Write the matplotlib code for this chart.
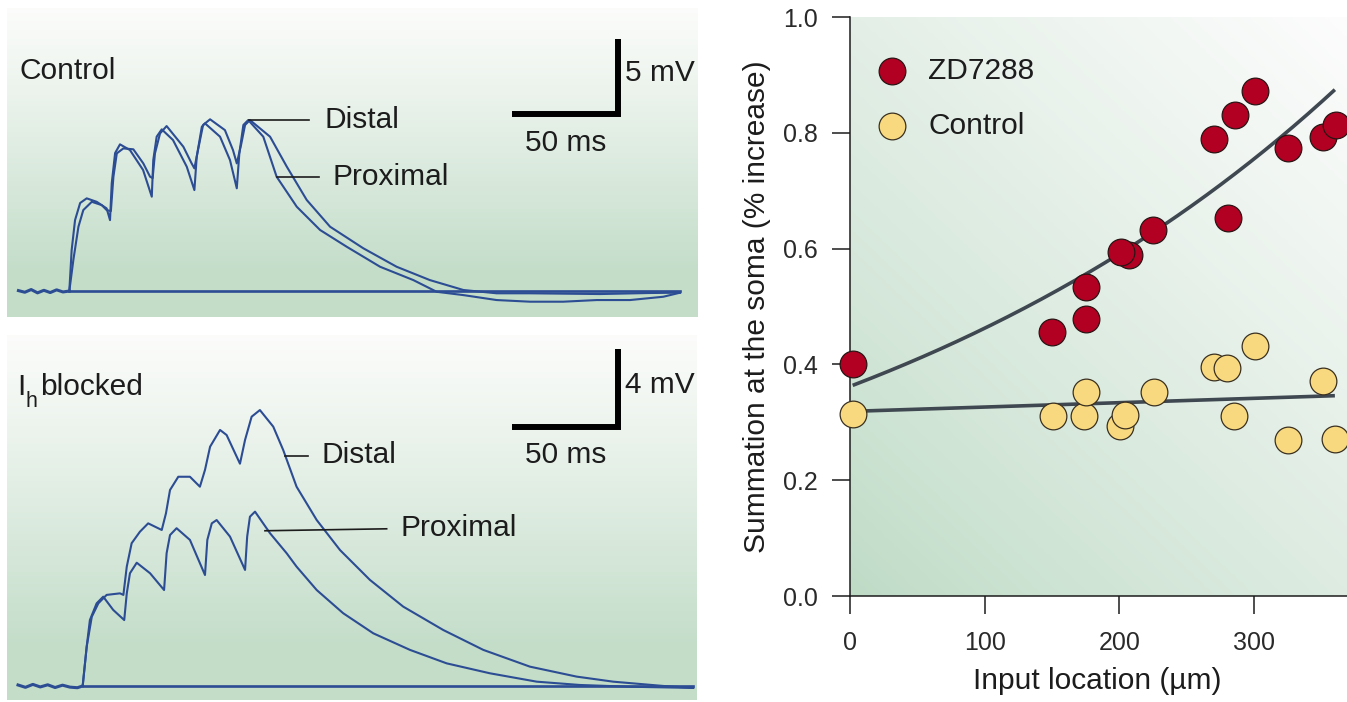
import numpy as np
import matplotlib
matplotlib.use("Agg")
import matplotlib.pyplot as plt
from matplotlib.colors import LinearSegmentedColormap

plt.rcParams["font.family"] = ["Liberation Sans", "DejaVu Sans"]

# ---------------- data: somatic recordings (time in ms, voltage in mV) ----------------
# Control: five EPSPs at ~50 Hz, proximal vs distal input
ctrl_prox_t = [0, 1.1, 2.7, 5.1, 8.2, 12.9, 17.6, 19.2, 20.0, 21.6, 23.9, 28.6, 34.8, 38.9,
               39.6, 41.2, 43.6, 48.9, 55.4, 59.0, 60.1, 62.5, 64.0, 71.1, 75.8, 79.0,
               80.2, 82.1, 84.4, 91.5, 97.8, 107.3, 118.3, 130.9, 146.6, 162.3, 173.3,
               185.9, 201.6, 217.3, 233.0, 248.8, 264.5, 280.2, 288.1]
ctrl_prox_v = [0, 2.73, 4.73, 5.87, 6.18, 5.95, 5.51, 4.73, 7.18, 9.20, 9.78, 9.40, 8.07, 6.29,
               8.73, 10.29, 10.78, 10.07, 8.29, 6.73, 8.95, 10.95, 11.18, 10.29, 8.73, 6.85,
               9.18, 11.07, 11.40, 10.29, 7.62, 5.62, 4.07, 2.95, 1.62, 0.73, -0.05,
               -0.27, -0.60, -0.71, -0.71, -0.60, -0.60, -0.38, -0.11]
ctrl_dist_t = [0, 1.9, 4.3, 6.6, 10.6, 15.3, 17.6, 19.6, 20.8, 22.4, 25.5, 30.2, 34.9, 38.1,
               39.3, 40.4, 42.8, 45.9, 53.8, 57.7, 59.0, 60.7, 63.1, 66.4, 73.4, 77.2, 79.0,
               81.0, 82.9, 85.2, 94.7, 102.6, 112.0, 123.0, 138.7, 154.4, 170.1, 185.9,
               201.6, 217.3, 250.3, 273.9, 288.1]
ctrl_dist_v = [0, 2.07, 4.29, 5.40, 5.95, 5.73, 5.40, 5.33, 7.62, 9.18, 9.51, 9.45, 8.51, 7.62,
               7.53, 9.18, 10.51, 11.00, 9.62, 8.51, 8.18, 9.40, 11.07, 11.45, 10.73, 9.40, 8.51,
               9.73, 11.07, 11.40, 10.29, 8.29, 6.07, 4.29, 2.85, 1.62, 0.73, 0.07,
               -0.15, -0.15, -0.20, -0.13, -0.11]

# Ih blocked (ZD7288)
blk_prox_t = [0, 1.9, 3.4, 6.6, 9.7, 14.4, 19.6, 20.8, 22.3, 25.5, 31.8, 38.4, 39.6, 41.2,
              44.3, 50.6, 57.7, 58.8, 60.9, 63.2, 69.5, 76.6, 77.6, 78.9, 81.3, 88.4, 96.2,
              100.9, 110.4, 122.9, 137.1, 154.4, 171.7, 192.1, 214.2, 234.6, 258.2, 288.0]
blk_prox_v = [0, 2.02, 3.38, 4.24, 4.58, 3.90, 3.38, 4.75, 5.78, 6.32, 5.78, 4.92, 6.81, 7.74,
              8.09, 7.49, 5.69, 7.49, 8.34, 8.51, 7.66, 5.95, 7.66, 8.68, 8.94, 7.83, 6.81,
              6.12, 4.92, 3.73, 2.70, 1.85, 1.16, 0.65, 0.22, 0.05, -0.04, -0.10]
blk_dist_t = [0, 1.9, 4.3, 7.4, 11.3, 17.6, 19.2, 20.8, 23.1, 27.0, 30.9, 37.3, 39.3, 41.2,
              45.1, 50.6, 55.3, 57.7, 60.1, 64.8, 67.9, 74.2, 76.6, 79.7, 83.6, 89.9, 94.6,
              100.9, 110.4, 121.4, 135.5, 151.2, 170.1, 189.0, 211.0, 233.0, 250.3, 273.9, 288.0]
blk_dist_v = [0, 2.02, 3.55, 4.24, 4.67, 4.75, 4.67, 6.12, 7.32, 7.91, 8.34, 8.00, 8.86, 10.05,
              10.73, 10.73, 10.22, 11.08, 12.27, 13.13, 12.87, 11.40, 12.62, 13.81, 14.15, 13.30, 12.10,
              10.22, 8.51, 6.97, 5.44, 4.07, 2.87, 1.85, 0.99, 0.48, 0.22, 0.00, -0.10]

# pre-stimulus baseline samples
ctrl_pre_t = [-24.0, -21.0, -18.0, -15.0, -12.0, -9.0, -6.0, -3.0, 0.0]
ctrl_pre_v = [0.03, -0.08, 0.10, -0.12, 0.05, -0.10, 0.08, -0.06, 0.0]
blk_pre_t = [-30.5, -27.0, -23.5, -20.0, -16.5, -13.0, -9.5, -6.0, -2.5, 0.0]
blk_pre_v = [0.05, -0.07, 0.08, -0.05, 0.06, -0.08, 0.04, -0.06, -0.09, 0.0]

# ---------------- data: summation vs input location ----------------
zd_x = [2, 150, 175, 175, 207, 201, 225, 270, 281, 285.5, 301, 325.5, 351, 361]
zd_y = [0.40, 0.456, 0.478, 0.534, 0.589, 0.594, 0.632, 0.790, 0.653, 0.830, 0.873, 0.773, 0.792, 0.813]
ctl_x = [2, 151, 174, 175, 200.5, 204, 226, 270, 280, 285, 301, 325.5, 351, 360]
ctl_y = [0.314, 0.311, 0.311, 0.352, 0.293, 0.312, 0.352, 0.395, 0.393, 0.311, 0.432, 0.270, 0.372, 0.271]
series_names = ["ZD7288", "Control"]

# fitted curves: exponential for ZD7288, linear for control
zd_fit_amp, zd_fit_rate = 0.362, 0.00245
ctl_fit_icpt, ctl_fit_slope = 0.3188, 7.54e-5
fit_range = (2, 360)

x_ticks = [0, 100, 200, 300]
y_ticks = [0.0, 0.2, 0.4, 0.6, 0.8, 1.0]

# ---------------- styling ----------------
TRACE = "#2c4c93"
INK = "#1c1c1c"
RED = "#b20023"
YELLOW = "#f8d97f"
FITC = "#3f4750"
GREEN = (0.765, 0.867, 0.788)
WHITE = (0.985, 0.988, 0.982)
FS = 21.5

W, H = 1347, 702
fig = plt.figure(figsize=(W / 100, H / 100), dpi=100)
fig.patch.set_facecolor("white")

panel_cmap = LinearSegmentedColormap.from_list("panel", [WHITE, GREEN])


def frac(x0, y0, x1, y1):
    return [x0 / W, 1 - y1 / H, (x1 - x0) / W, (y1 - y0) / H]


def trace_axes(rect, xlim, ylim):
    ax = fig.add_axes(rect)
    ax.set_xlim(*xlim)
    ax.set_ylim(*ylim)
    ax.axis("off")
    yy = np.linspace(0, 1, 300)[:, None]  # 0 at bottom
    val = np.clip((1 - yy) / 0.86, 0, 1) ** 1.1
    ax.imshow(val, extent=[xlim[0], xlim[1], ylim[0], ylim[1]], origin="lower",
              aspect="auto", cmap=panel_cmap, vmin=0, vmax=1, zorder=0, interpolation="bilinear")
    return ax


def draw_traces(ax, pre_t, pre_v, a_t, a_v, b_t, b_v):
    ax.plot(pre_t, pre_v, color=TRACE, lw=2.2, zorder=3)
    ax.plot([0, a_t[-1]], [0, 0], color=TRACE, lw=1.9, zorder=3)
    for t, v in ((a_t, a_v), (b_t, b_v)):
        ax.plot(t, v, color=TRACE, lw=1.5, zorder=3, solid_joinstyle="round")


def scale_bar(ax, x_end, y0, dv, mv_text, ms_y):
    ax.plot([x_end - 50, x_end, x_end], [y0, y0, y0 + dv], color="black", lw=4.3,
            solid_joinstyle="miter", solid_capstyle="butt", zorder=4)
    ax.text(x_end + 3.2, y0 + dv * 0.55, mv_text, fontsize=FS, color=INK, ha="left", va="center")
    ax.text(x_end - 24.5, ms_y, "50 ms", fontsize=FS, color=INK, ha="center", va="center")


# ---- top: control ----
ax1 = trace_axes(frac(7, 8, 697, 317), (-29.4, 296.1), (-1.73, 18.87))
draw_traces(ax1, ctrl_pre_t, ctrl_pre_v, ctrl_prox_t, ctrl_prox_v, ctrl_dist_t, ctrl_dist_v)
scale_bar(ax1, 258.7, 11.8, 5, "5 mV", 9.9)
ax1.text(-23.4, 14.7, "Control", fontsize=FS, color=INK, ha="left", va="center")
ax1.plot([84.6, 113.2], [11.4, 11.4], color=INK, lw=1.2, zorder=4)
ax1.text(120.3, 11.4, "Distal", fontsize=FS, color=INK, ha="left", va="center")
ax1.plot([97.8, 117.9], [7.58, 7.58], color=INK, lw=1.2, zorder=4)
ax1.text(124.2, 7.6, "Proximal", fontsize=FS, color=INK, ha="left", va="center")

# ---- bottom: Ih blocked ----
ax2 = trace_axes(frac(7, 335, 697, 700), (-35.7, 289.8), (-0.72, 18.0))
draw_traces(ax2, blk_pre_t, blk_pre_v, blk_prox_t, blk_prox_v, blk_dist_t, blk_dist_v)
scale_bar(ax2, 252.4, 13.26, 4, "4 mV", 11.85)
ax2.text(-30.8, 14.92, "I", fontsize=FS, color=INK, ha="left", va="baseline")
ax2.text(-27.0, 14.30, "h", fontsize=15.5, color=INK, ha="left", va="baseline")
ax2.text(-20.0, 14.92, "blocked", fontsize=FS, color=INK, ha="left", va="baseline")
ax2.plot([95.4, 106.3], [11.77, 11.77], color=INK, lw=1.2, zorder=4)
ax2.text(112.7, 11.85, "Distal", fontsize=FS, color=INK, ha="left", va="center")
ax2.plot([86.0, 143.4], [7.96, 8.06], color=INK, lw=1.2, zorder=4)
ax2.text(149.7, 8.1, "Proximal", fontsize=FS, color=INK, ha="left", va="center")

# ---- right: summation vs location ----
ax3 = fig.add_axes(frac(850, 17, 1347, 596))
ax3.set_xlim(0, 369)
ax3.set_ylim(0, 1.0)
uu, vv = np.meshgrid(np.linspace(0, 1, 300), np.linspace(0, 1, 300))
diag = np.clip((uu * 0.9 + vv * 1.1) / 2.0, 0, 1) ** 0.85
ax3.imshow(diag, extent=[0, 369, 0, 1.0], origin="lower", aspect="auto",
           cmap=LinearSegmentedColormap.from_list("diag", [(0.745, 0.858, 0.775), (0.99, 0.99, 0.99)]),
           vmin=0, vmax=1, zorder=0, interpolation="bilinear")

xf = np.linspace(fit_range[0], fit_range[1], 200)
ax3.plot(xf, zd_fit_amp * np.exp(zd_fit_rate * xf), color=FITC, lw=2.6, zorder=2,
         solid_capstyle="butt")
ax3.plot(xf, ctl_fit_icpt + ctl_fit_slope * xf, color=FITC, lw=2.6, zorder=2,
         solid_capstyle="butt")

ax3.scatter(zd_x, zd_y, s=370, c=RED, edgecolors="#2a1414", linewidths=0.9, zorder=6,
            clip_on=False)
ax3.scatter(ctl_x, ctl_y, s=370, c=YELLOW, edgecolors="#3a3020", linewidths=0.9, zorder=6,
            clip_on=False)

# legend
for yy_, col, ec, name in [(0.9067, RED, "#2a1414", series_names[0]),
                           (0.8117, YELLOW, "#3a3020", series_names[1])]:
    ax3.scatter([0.0845], [yy_], s=370, c=col, edgecolors=ec, linewidths=0.9,
                transform=ax3.transAxes, zorder=6, clip_on=False)
    ax3.text(0.157, yy_, name, transform=ax3.transAxes, fontsize=FS, color=INK,
             ha="left", va="center")

for side in ["top", "right"]:
    ax3.spines[side].set_visible(False)
for side in ["left", "bottom"]:
    ax3.spines[side].set_linewidth(1.1)
    ax3.spines[side].set_color(INK)
    ax3.spines[side].set_zorder(5)
ax3.set_xticks(x_ticks)
ax3.set_xticklabels([f"{v:d}" for v in x_ticks])
ax3.set_yticks(y_ticks)
ax3.set_yticklabels([f"{v:.1f}" for v in y_ticks])
ax3.tick_params(direction="out", length=13, width=1.1, color=INK, labelsize=18,
                labelcolor="#2a2a2a")
ax3.tick_params(axis="y", pad=10)
ax3.tick_params(axis="x", pad=12)

fig.text(757 / W, 1 - 306.5 / H, "Summation at the soma (% increase)", rotation=90,
         fontsize=FS, color=INK, ha="center", va="center")
fig.text(1097 / W, 1 - 681 / H, "Input location (\u00b5m)", fontsize=FS, color=INK,
         ha="center", va="center")

fig.savefig("out.png", dpi=100, facecolor="white")
